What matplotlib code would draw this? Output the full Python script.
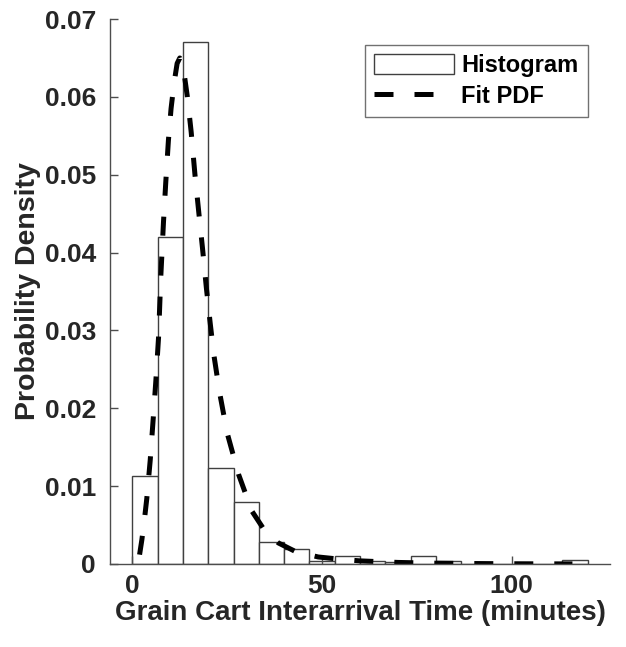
import matplotlib
matplotlib.use("Agg")
import matplotlib.pyplot as plt
import numpy as np

# histogram bin edges (minutes) and pdf-normalised bar heights
bin_edges = [0, 6.67, 13.33, 20, 26.67, 33.33, 40, 46.67, 53.33, 60,
             66.67, 73.33, 80, 86.67, 93.33, 100, 106.67, 113.33, 120]
bar_heights = [0.0113, 0.0420, 0.0670, 0.0123, 0.0080, 0.0028, 0.0019,
               0.0004, 0.0010, 0.0004, 0.0003, 0.0010, 0.0004, 0.0,
               0.0, 0.0, 0.0, 0.0005]

# fitted pdf, sampled along the curve
fit_x = [1.9, 2.5, 3.2, 3.8, 4.7, 5.5, 6.2, 6.9, 7.5, 8.2, 8.8, 9.5, 10.2,
         11.0, 11.8, 12.5, 13.5, 14.5, 15.5, 16.5, 17.5, 18.5, 19.5, 20.5,
         21.5, 23.0, 25.0, 28.0, 31.5, 35.0, 38.5, 43.0, 49.0, 55.0, 60.0,
         70.0, 80.0, 90.0, 100.0, 116.0]
fit_y = [0.0012, 0.0031, 0.0058, 0.0084, 0.0133, 0.0187, 0.0236, 0.0291,
         0.0370, 0.0439, 0.0490, 0.0544, 0.0585, 0.0618, 0.0643, 0.0650,
         0.0635, 0.0600, 0.0555, 0.0500, 0.0452, 0.0405, 0.0355, 0.0310,
         0.0268, 0.0220, 0.0168, 0.0115, 0.0068, 0.0042, 0.0027, 0.0016,
         0.0009, 0.0006, 0.0004, 0.0002, 0.0001, 0.00006, 0.00003, 0.00001]

plt.rcParams['font.family'] = ['Liberation Sans', 'DejaVu Sans']
plt.rcParams['font.weight'] = 'bold'

fig = plt.figure(figsize=(6.26, 6.47), dpi=100)
ax = fig.add_axes([0.1757, 0.1283, 0.7987, 0.8423])

widths = np.diff(bin_edges)
bars = ax.bar(bin_edges[:-1], bar_heights, width=widths, align='edge',
              facecolor='white', edgecolor='#404040', linewidth=1.0,
              label='Histogram')
line, = ax.plot(fit_x, fit_y, color='black', linewidth=3.6,
                linestyle=(0, (3.8, 4.2)), dash_capstyle='butt',
                label='Fit PDF')

ax.set_xlim(-5.9, 125.9)
ax.set_ylim(0, 0.07)
ax.set_xticks([0, 50, 100])
ax.set_yticks([0, 0.01, 0.02, 0.03, 0.04, 0.05, 0.06, 0.07])
ax.set_yticklabels(['0', '0.01', '0.02', '0.03', '0.04', '0.05', '0.06', '0.07'])

for side in ['top', 'right']:
    ax.spines[side].set_visible(False)
for side in ['left', 'bottom']:
    ax.spines[side].set_color('#4d4d4d')
    ax.spines[side].set_linewidth(1.0)
ax.tick_params(direction='in', length=6, width=1, color='#4d4d4d',
               labelsize=19, labelcolor='#262626')
ax.tick_params(axis='y', pad=10)
ax.tick_params(axis='x', pad=7)
for lbl in ax.get_xticklabels() + ax.get_yticklabels():
    lbl.set_fontweight('bold')

ax.set_xlabel('Grain Cart Interarrival Time (minutes)', fontsize=20,
              fontweight='bold', color='#262626', labelpad=2)
ax.set_ylabel('Probability Density', fontsize=20.5, fontweight='bold',
              color='#262626', labelpad=3)

leg = ax.legend([bars, line], ['Histogram', 'Fit PDF'], loc='upper right',
                bbox_to_anchor=(588 / 626, 1 - 45 / 647),
                bbox_transform=fig.transFigure, fontsize=17, frameon=True,
                fancybox=False, edgecolor='#4d4d4d', handlelength=3.4,
                handleheight=0.9, handletextpad=0.3, borderpad=0.4,
                labelspacing=0.3, borderaxespad=0)
leg.get_frame().set_linewidth(1.0)
for t in leg.get_texts():
    t.set_fontweight('bold')
    t.set_color('black')

fig.savefig('out.png', dpi=100)
